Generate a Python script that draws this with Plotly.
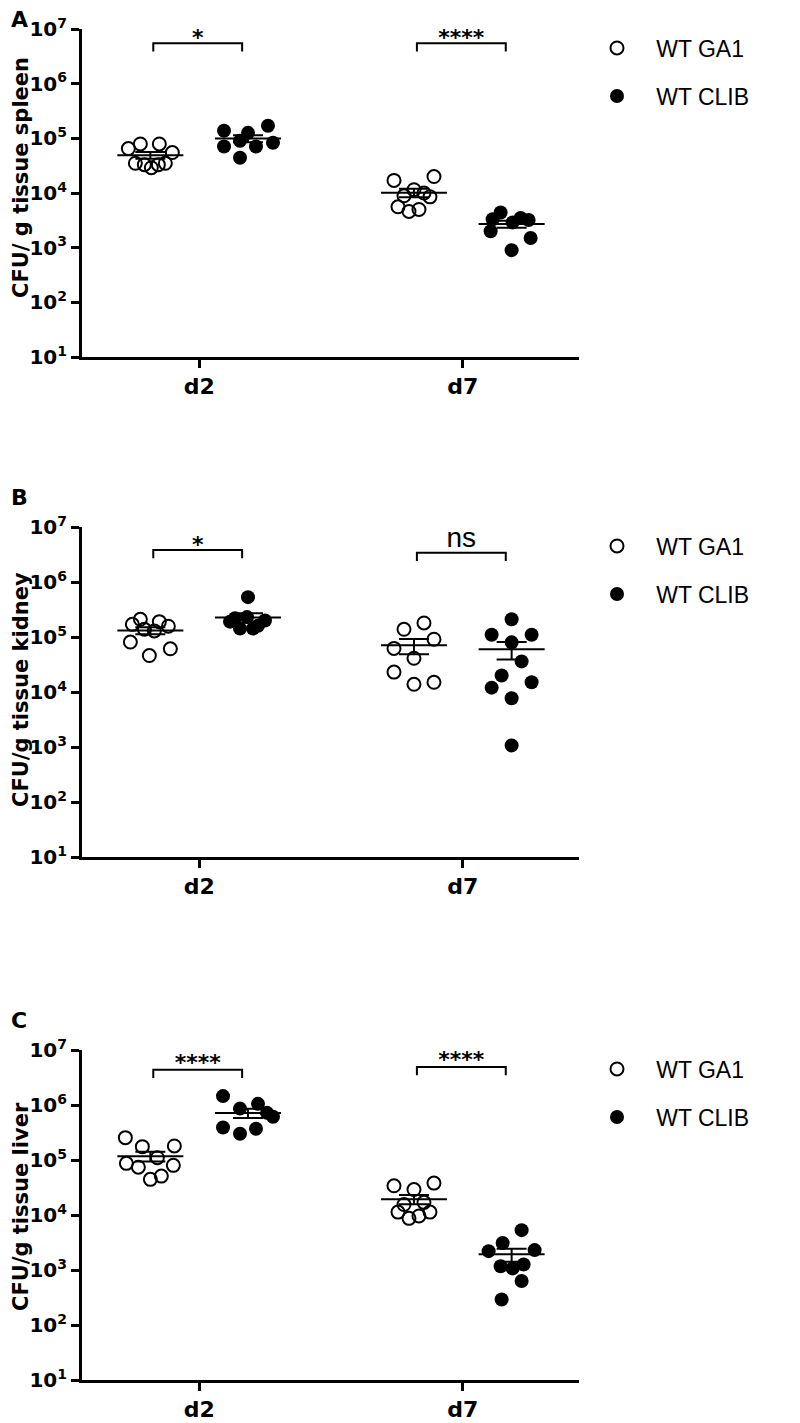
import numpy as np
import plotly.graph_objects as go

# ---------------- data ----------------
days = ["d2", "d7"]
strains = ["WT GA1", "WT CLIB"]
panel_letters = ["A", "B", "C"]
y_titles = ["CFU/ g tissue spleen", "CFU/g tissue kidney", "CFU/g tissue liver"]
sig_labels = [["*", "****"], ["*", "ns"], ["****", "****"]]
y_tick_exponents = [1, 2, 3, 4, 5, 6, 7]

spleen_ga1_d2 = [6.5e4, 7.9e4, 7.9e4, 5.5e4, 3.5e4, 3.3e4, 2.9e4, 3.3e4, 3.5e4]
spleen_clib_d2 = [1.38e5, 1.26e5, 1.7e5, 7.1e4, 7.1e4, 8.3e4, 4.4e4, 9.0e4]
spleen_ga1_d7 = [1.7e4, 2.0e4, 8.9e3, 1.15e4, 1.0e4, 8.5e3, 5.6e3, 4.6e3, 5.0e3]
spleen_clib_d7 = [4.4e3, 3.3e3, 3.5e3, 3.2e3, 2.9e3, 2.0e3, 1.5e3, 9.0e2]

kidney_ga1_d2 = [2.1e5, 1.7e5, 1.38e5, 1.9e5, 1.57e5, 1.29e5, 8.1e4, 4.6e4, 6.1e4]
kidney_clib_d2 = [5.3e5, 1.9e5, 1.42e5, 1.42e5, 2.0e5, 2.3e5, 2.2e5, 1.6e5]
kidney_ga1_d7 = [1.38e5, 1.8e5, 9.1e4, 6.2e4, 4.1e4, 2.3e4, 1.38e4, 1.5e4]
kidney_clib_d7 = [2.1e5, 1.1e5, 1.1e5, 8.0e4, 3.6e4, 2.0e4, 1.2e4, 1.5e4, 7.7e3, 1.07e3]

liver_ga1_d2 = [2.55e5, 1.75e5, 1.8e5, 8.7e4, 7.4e4, 1.1e5, 8.0e4, 4.45e4, 5.1e4]
liver_clib_d2 = [1.45e6, 8.6e5, 1.05e6, 7.2e5, 6.1e5, 3.9e5, 3.0e5, 3.7e5]
liver_ga1_d7 = [3.4e4, 2.9e4, 3.8e4, 1.55e4, 1.7e4, 1.13e4, 8.7e3, 9.6e3, 1.13e4]
liver_clib_d7 = [5.3e3, 3.1e3, 2.2e3, 2.3e3, 1.17e3, 1.07e3, 1.26e3, 6.3e2, 2.9e2]

# ---------------- layout helpers (positions / styles) ----------------
# horizontal scatter offsets of each dot (in px) within its column
spleen_off = [[-22, -10, 9, 22, -15, -6, 1, 8, 15], [-24, 0, 20, -24, 8, 25, -8, -8],
              [-20, 20, -10, 0, 10, 16, -16, -5, 5], [-11, -19, 9, 17, 1, -21, 19, 0]]
kidney_off = [[-10, -18, -6, 9, 18, 4, -20, -1, 20], [0, -18, -8, 5, 17, -1, -13, 10],
              [-10, 10, 20, -20, 0, -20, 0, 20], [0, -20, 20, 0, 10, -10, -20, 20, 0, 0]]
liver_off = [[-25, -8, 24, -24, -12, 7, 23, 0, 11], [-25, -8, 10, 19, 25, -25, -8, 8],
             [-20, 0, 20, -10, 10, -16, -5, 5, 16], [10, -9, -23, 23, -11, 1, 12, 10, -10]]

panels = [
    [spleen_ga1_d2, spleen_clib_d2, spleen_ga1_d7, spleen_clib_d7],
    [kidney_ga1_d2, kidney_clib_d2, kidney_ga1_d7, kidney_clib_d7],
    [liver_ga1_d2, liver_clib_d2, liver_ga1_d7, liver_clib_d7],
]
offsets = [spleen_off, kidney_off, liver_off]

# page is 800x1423; the html body has an 8px margin on the top/left
PAGE_MARGIN = 8
FW, FH = 800 - PAGE_MARGIN, 1423 - PAGE_MARGIN


def fx(px):  # page x px -> paper fraction
    return (px - PAGE_MARGIN) / FW


def fy(py):  # page y px -> paper fraction
    return 1 - (py - PAGE_MARGIN) / FH


SLOT_PX = 97.7                      # px per x unit
col_pos = [1.0, 2.0, 3.7, 4.7]      # GA1 d2, CLIB d2, GA1 d7, CLIB d7
day_tick = [1.5, 4.2]
x_range = [0.30, 5.39]
x_page = [82, 579]
panel_top_px = [29, 527, 1050]
panel_bot_px = [357, 857, 1380]
DEC_PX = 55.0
bracket_level = [[6.74, 6.74], [6.58, 6.53], [6.64, 6.69]]
label_gap_px = [[9, 9], [9, 13], [11, 11]]
mean_half = 0.338
title_center_px = [178, 690, 1207]
letter_px = [19, 497, 1020]

FONT = "Liberation Sans, Arial, sans-serif"
BOLD = "DejaVu Sans, Verdana, sans-serif"
NBSP = "\u00a0"

fig = go.Figure()

for p in range(3):
    xa = "x" if p == 0 else f"x{p+1}"
    ya = "y" if p == 0 else f"y{p+1}"
    # dots
    for s in range(2):
        xs, ys = [], []
        for d in range(2):
            c = d * 2 + s
            vals = panels[p][c]
            xs += [col_pos[c] + o / SLOT_PX for o in offsets[p][c]]
            ys += vals
        leg_id = "legend" if (p == 0 and s == 0) else f"legend{p*2+s+1}"
        if s == 0:
            marker = dict(symbol="circle-open", size=13, color="black", line=dict(width=2, color="black"))
        else:
            marker = dict(symbol="circle", size=14, color="black", line=dict(width=0))
        fig.add_trace(go.Scatter(x=xs, y=ys, mode="markers", marker=marker,
                                 name=NBSP * 3 + strains[s],
                                 xaxis=xa, yaxis=ya, legend=leg_id, showlegend=True,
                                 hoverinfo="skip"))
    # mean +- SEM
    for c in range(4):
        vals = np.array(panels[p][c])
        m = vals.mean()
        sem = vals.std(ddof=1) / np.sqrt(len(vals))
        fig.add_trace(go.Scatter(
            x=[col_pos[c]], y=[m], mode="markers",
            marker=dict(size=1, color="rgba(0,0,0,0)"),
            error_x=dict(type="data", array=[mean_half], width=0, thickness=2, color="black"),
            error_y=dict(type="data", array=[sem], width=15, thickness=2, color="black"),
            xaxis=xa, yaxis=ya, showlegend=False, hoverinfo="skip"))
    # brackets + labels
    for d in range(2):
        x0 = col_pos[d * 2] + 0.03
        x1 = col_pos[d * 2 + 1] - 0.06
        top = bracket_level[p][d]
        leg = top - 0.15
        fig.add_trace(go.Scatter(x=[x0, x0, x1, x1], y=[10 ** leg, 10 ** top, 10 ** top, 10 ** leg],
                                 mode="lines", line=dict(color="black", width=2), cliponaxis=False,
                                 xaxis=xa, yaxis=ya, showlegend=False, hoverinfo="skip"))
        lab = sig_labels[p][d]
        is_ns = lab == "ns"
        ly = top + label_gap_px[p][d] / DEC_PX - (0.0 if is_ns else 0.1)
        fig.add_trace(go.Scatter(
            x=[(x0 + x1) / 2], y=[10 ** ly], mode="text", text=[lab if is_ns else f"<b>{lab}</b>"],
            textposition="middle center", cliponaxis=False,
            textfont=dict(family=FONT if is_ns else BOLD, size=28 if is_ns else 22, color="black"),
            xaxis=xa, yaxis=ya, showlegend=False, hoverinfo="skip"))

layout = dict(width=FW, height=FH, margin=dict(l=0, r=0, t=0, b=0, autoexpand=False),
              paper_bgcolor="white", plot_bgcolor="white", showlegend=True)

annotations = []
for p in range(3):
    xk = "xaxis" if p == 0 else f"xaxis{p+1}"
    yk = "yaxis" if p == 0 else f"yaxis{p+1}"
    ya = "y" if p == 0 else f"y{p+1}"
    xa = "x" if p == 0 else f"x{p+1}"
    ydom = [fy(panel_bot_px[p]), fy(panel_top_px[p])]
    layout[xk] = dict(domain=[fx(x_page[0]), fx(x_page[1])], anchor=ya, range=x_range,
                      showgrid=False, zeroline=False,
                      showline=True, linewidth=3, linecolor="black", automargin=False,
                      ticks="outside", ticklen=8, tickwidth=3, tickcolor="black",
                      tickvals=day_tick, ticktext=[f"<b>{d}</b>" for d in days],
                      tickfont=dict(family=BOLD, size=22, color="black"))
    layout[yk] = dict(domain=ydom, anchor=xa, type="log", range=[1, 7], showgrid=False,
                      zeroline=False, showline=True, linewidth=3, linecolor="black", automargin=False,
                      ticks="outside", ticklen=8, tickwidth=3, tickcolor="black",
                      tickvals=[10 ** e for e in y_tick_exponents],
                      ticktext=[f"<b>10<sup>{e}</sup></b>" for e in y_tick_exponents],
                      tickfont=dict(family=BOLD, size=20, color="black"))
    # y-axis title
    annotations.append(dict(text=f"<b>{y_titles[p]}</b>", x=fx(21), y=fy(title_center_px[p]),
                            xref="paper", yref="paper", xanchor="center", yanchor="middle",
                            textangle=-90, showarrow=False,
                            font=dict(family=BOLD, size=21, color="black")))
    # panel letter
    annotations.append(dict(text=f"<b>{panel_letters[p]}</b>", x=fx(9), y=fy(letter_px[p]),
                            xref="paper", yref="paper", xanchor="left", yanchor="middle",
                            showarrow=False, font=dict(family=BOLD, size=22, color="black")))
    # legends
    top = panel_top_px[p]
    for s in range(2):
        lk = "legend" if (p == 0 and s == 0) else f"legend{p*2+s+1}"
        ypx = top + 19 + 48 * s
        layout[lk] = dict(x=fx(597), y=fy(ypx), xanchor="left", yanchor="middle",
                          bgcolor="rgba(0,0,0,0)", borderwidth=0,
                          font=dict(family=FONT, size=23, color="black"))

layout["annotations"] = annotations

fig.update_layout(**layout)
fig.write_html("out.html")
